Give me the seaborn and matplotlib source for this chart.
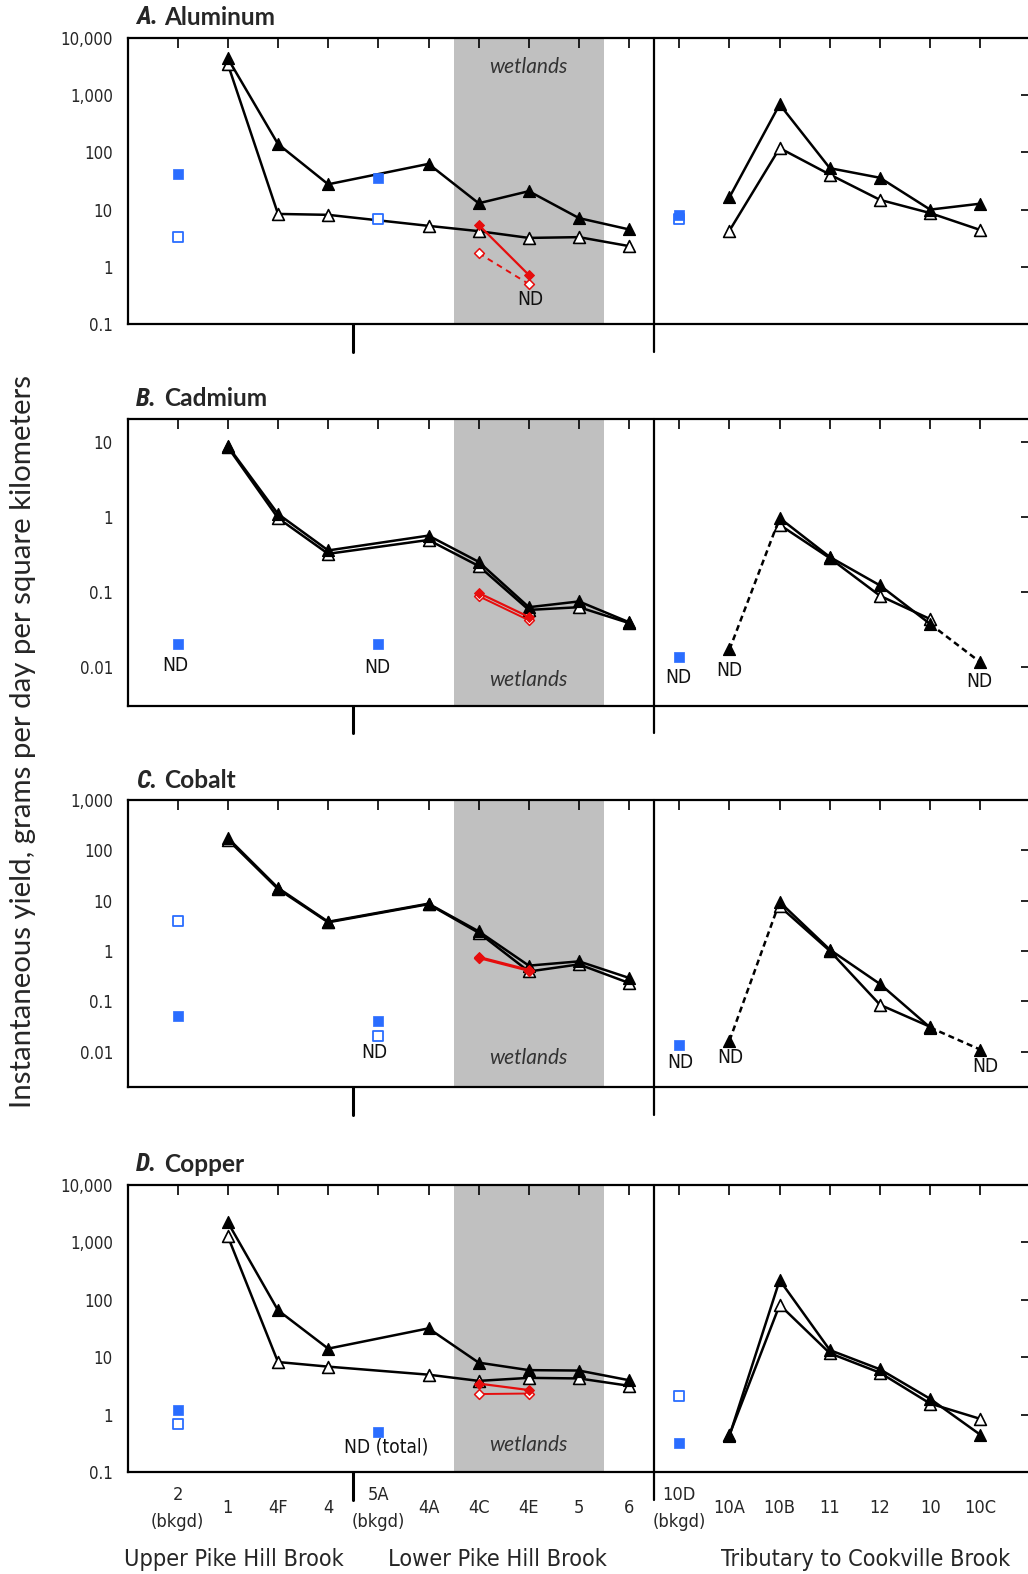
import os
import numpy as np
import matplotlib
matplotlib.use("Agg")
import matplotlib.pyplot as plt
import seaborn as sns
from matplotlib import font_manager as fm
from matplotlib.font_manager import FontProperties
from matplotlib.textpath import TextPath
from matplotlib.ticker import NullLocator

nan = np.nan

# ---------------- data ----------------
SITE_LABELS = ['2\n(bkgd)', '1', '4F', '4', '5A\n(bkgd)', '4A', '4C', '4E', '5', '6',
               '10D\n(bkgd)', '10A', '10B', '11', '12', '10', '10C']
PIKE_SITES = ['1', '4F', '4', '4A', '4C', '4E', '5', '6']
TRIB_SITES = ['10A', '10B', '11', '12', '10', '10C']
BKGD_SITES = ['2\n(bkgd)', '5A\n(bkgd)', '10D\n(bkgd)']
RED_SITES = ['4C', '4E']
GROUPS = ['Upper Pike Hill Brook', 'Lower Pike Hill Brook', 'Tributary to Cookville Brook']
PANEL_LETTERS = ['A.', 'B.', 'C.', 'D.']
PANEL_NAMES = ['Aluminum', 'Cadmium', 'Cobalt', 'Copper']
YLABEL = 'Instantaneous yield, grams per day per square kilometers'

# Aluminum
al_filled_pike = [4400, 140, 27.7, 63, 12.9, 21, 7.1, 4.5]
al_open_pike = [3500, 8.4, 8.1, 5.2, 4.2, 3.2, 3.3, 2.3]
al_filled_trib = [16.5, 690, 53, 36, 10, 12.7]
al_open_trib = [4.3, 119, 41, 14.8, 8.7, 4.4]
al_bkgd_filled = [41.5, 35, 7.9]
al_bkgd_open = [3.3, 6.8, 6.8]
al_red_filled = [5.4, 0.72]
al_red_open = [1.73, 0.5]

# Cadmium
cd_filled_pike = [8.8, 1.09, 0.355, 0.56, 0.25, 0.062, 0.074, 0.039]
cd_open_pike = [8.5, 0.96, 0.32, 0.49, 0.22, 0.057, 0.062, 0.038]
cd_filled_trib = [0.0169, 0.96, 0.29, 0.121, 0.037, 0.0114]
cd_open_trib = [nan, 0.78, 0.28, 0.088, 0.043, nan]
cd_bkgd_filled = [0.0203, 0.0203, 0.0135]
cd_bkgd_open = [nan, nan, nan]
cd_red_filled = [0.096, 0.046]
cd_red_open = [0.087, 0.0415]

# Cobalt
co_filled_pike = [176, 17.9, 3.8, 8.7, 2.45, 0.51, 0.62, 0.29]
co_open_pike = [163, 17, 3.7, 8.5, 2.3, 0.39, 0.54, 0.23]
co_filled_trib = [0.0165, 9.4, 1.06, 0.22, 0.030, 0.0109]
co_open_trib = [nan, 7.7, 1.0, 0.085, 0.031, nan]
co_bkgd_filled = [0.05, 0.040, 0.0133]
co_bkgd_open = [4.0, 0.020, nan]
co_red_filled = [0.76, 0.42]
co_red_open = [0.72, 0.40]

# Copper
cu_filled_pike = [2240, 66, 14.2, 32, 8.1, 6.0, 5.9, 4.0]
cu_open_pike = [1277, 8.3, 6.9, 5.0, 3.9, 4.4, 4.3, 3.2]
cu_filled_trib = [0.435, 221, 13.4, 6.2, 1.9, 0.45]
cu_open_trib = [0.45, 82, 11.8, 5.4, 1.57, 0.85]
cu_bkgd_filled = [1.19, 0.50, 0.33]
cu_bkgd_open = [0.70, nan, 2.17]
cu_red_filled = [3.5, 2.7]
cu_red_open = [2.3, 2.35]

YTICKS_A = [0.1, 1, 10, 100, 1000, 10000]
YTICKS_B = [0.01, 0.1, 1, 10]
YTICKS_C = [0.01, 0.1, 1, 10, 100, 1000]
YTICK_LABELS_A = ['0.1', '1', '10', '100', '1,000', '10,000']
YTICK_LABELS_B = ['0.01', '0.1', '1', '10']
YTICK_LABELS_C = ['0.01', '0.1', '1', '10', '100', '1,000']

# ---------------- fonts ----------------
sns.set_style("white")
plt.rcParams['font.family'] = ['DejaVu Sans']
plt.rcParams['axes.linewidth'] = 1.6

OK_NAMES = {'Liberation Sans Narrow', 'Liberation Sans', 'Roboto', 'Roboto Condensed',
            'Open Sans', 'Open Sans Condensed', 'Lato', 'Inter', 'Noto Sans', 'DejaVu Sans',
            'Arimo'}
NOT_REGULAR = ('bold', 'black', 'medium', 'semi', 'light', 'thin', 'extra', 'heavy',
               'ultra', 'hairline', 'demi', '[')

_cache = {}


def _measure(path, s):
    key = (path, s)
    if key not in _cache:
        _cache[key] = TextPath((0, 0), s, size=10,
                               prop=FontProperties(fname=path)).get_extents().width
    return _cache[key]


def _cap(path):
    key = (path, '#cap')
    if key not in _cache:
        _cache[key] = TextPath((0, 0), 'H', size=10,
                               prop=FontProperties(fname=path)).get_extents().height
    return _cache[key]


CANDS = []
_seen = set()
for f in fm.fontManager.ttflist:
    if f.name in OK_NAMES and f.fname not in _seen and f.fname.lower().endswith(('.ttf', '.otf')):
        _seen.add(f.fname)
        CANDS.append(f.fname)


def _kind_ok(path, bold, italic):
    b = os.path.basename(path).lower()
    is_it = ('italic' in b) or ('oblique' in b)
    if is_it != italic:
        return False
    stem = b.replace('italic', '').replace('oblique', '')
    if '[' in stem:
        return False
    if bold:
        return ('bold' in stem) and not any(x in stem for x in ('semi', 'extra', 'ultra', 'demi'))
    return not any(x in stem for x in NOT_REGULAR)


def pick_font(bold, italic, sample, ratio):
    best = None
    for path in CANDS:
        if not _kind_ok(path, bold, italic):
            continue
        try:
            r = _measure(path, sample) / _cap(path)
        except Exception:
            continue
        d = abs(np.log(r / ratio))
        if best is None or d < best[0]:
            best = (d, path)
    return best[1] if best else None


_fallback = fm.findfont(FontProperties(family='DejaVu Sans'))
F_REG = pick_font(False, False, 'Upper Pike Hill Brook', 224 / 18.3) or _fallback
F_BOLD = pick_font(True, False, 'Aluminum', 110 / 18.3) or F_REG
F_BI = pick_font(True, True, 'A.', 21 / 18.3) or F_BOLD
F_IT = pick_font(False, True, 'Upper Pike Hill Brook', 224 / 18.3) or F_REG
F_YL = pick_font(False, False, YLABEL, 727 / 21.7) or F_REG


def fp(path, text, cap_px=None, width_px=None):
    sizes = []
    if cap_px is not None:
        sizes.append(cap_px / (_cap(path) / 10))
    if width_px is not None:
        sizes.append(width_px / (_measure(path, text) / 10))
    px = min(sizes)
    return FontProperties(fname=path, size=px * 0.72)


FP_YTICK = fp(F_REG, '10,000', 14, 50)
FP_XTICK = fp(F_REG, '10A', 13.3, 30)
FP_ND = fp(F_REG, 'ND', 14, 24.5)
FP_WET = fp(F_IT, 'wetlands', None, 77)
FP_GROUP = fp(F_REG, 'Tributary to Cookville Brook', 18.3, 290)
FP_TITLE = fp(F_BOLD, 'Aluminum', 18.3, 110)
FP_LETTER = fp(F_BI, 'A.', 18.3, 21)
FP_YLABEL = fp(F_YL, YLABEL, 22, 727)

BLUE = '#2a6dff'
RED = '#e60d0d'
GREY = '#c0c0c0'

W, H = 1028, 1574
fig = plt.figure(figsize=(W / 100, H / 100), dpi=100)

pos = {lab: i for i, lab in enumerate(SITE_LABELS)}
DASH = (0, (2.4, 1.6))


def draw_series(ax, sites, vals, styles, color, lw, marker, ms, fc, ec, mew, z):
    x = np.array([pos[s] for s in sites], float)
    y = np.array(vals, float)
    if styles is not None:
        for i in range(len(x) - 1):
            if np.isnan(y[i]) or np.isnan(y[i + 1]):
                continue
            sns.lineplot(x=x[i:i + 2], y=y[i:i + 2], ax=ax, color=color, lw=lw,
                         linestyle=styles[i], estimator=None, sort=False,
                         zorder=z, legend=False)
    m = ~np.isnan(y)
    sns.scatterplot(x=x[m], y=y[m], ax=ax, marker=marker, s=ms ** 2, color=fc,
                    edgecolor=ec, linewidth=mew, zorder=z + 0.5, legend=False)


panels = [
    dict(fp=al_filled_pike, op=al_open_pike, ft=al_filled_trib, ot=al_open_trib,
         bf=al_bkgd_filled, bo=al_bkgd_open, rf=al_red_filled, ro=al_red_open,
         yl=(0.1, 10000), yt=YTICKS_A, ytl=YTICK_LABELS_A),
    dict(fp=cd_filled_pike, op=cd_open_pike, ft=cd_filled_trib, ot=cd_open_trib,
         bf=cd_bkgd_filled, bo=cd_bkgd_open, rf=cd_red_filled, ro=cd_red_open,
         yl=(0.003, 20), yt=YTICKS_B, ytl=YTICK_LABELS_B),
    dict(fp=co_filled_pike, op=co_open_pike, ft=co_filled_trib, ot=co_open_trib,
         bf=co_bkgd_filled, bo=co_bkgd_open, rf=co_red_filled, ro=co_red_open,
         yl=(0.002, 1000), yt=YTICKS_C, ytl=YTICK_LABELS_C),
    dict(fp=cu_filled_pike, op=cu_open_pike, ft=cu_filled_trib, ot=cu_open_trib,
         bf=cu_bkgd_filled, bo=cu_bkgd_open, rf=cu_red_filled, ro=cu_red_open,
         yl=(0.1, 10000), yt=YTICKS_A, ytl=YTICK_LABELS_A),
]

AX_LEFT, AX_RIGHT = 127.5, 1030.5
AX_TB = [(38, 324), (419.3, 705.7), (800, 1086.7), (1185, 1472.3)]
TITLE_Y = [17.5, 399, 781, 1164]
WET_Y = [0.90, 0.09, 0.10, 0.095]
trib_styles = [['-'] * 5, ['--', '-', '-', '-', '--'], ['--', '-', '-', '-', '--'], ['-'] * 5]
ND_NOTES = [
    [('4E', 0.5, 'ND', 1, -15)],
    [('2\n(bkgd)', 0.0203, 'ND', -2, -22), ('5A\n(bkgd)', 0.0203, 'ND', -1, -24),
     ('10D\n(bkgd)', 0.0135, 'ND', -1, -21), ('10A', 0.0169, 'ND', 0, -21),
     ('10C', 0.0114, 'ND', -1, -19)],
    [('5A\n(bkgd)', 0.020, 'ND', -4, -16), ('10D\n(bkgd)', 0.0133, 'ND', 1, -17),
     ('10A', 0.0165, 'ND', 1, -17), ('10C', 0.0109, 'ND', 5, -17)],
    [('5A\n(bkgd)', 0.50, 'ND (total)', 8, -15)],
]

for k, p in enumerate(panels):
    top, bot = AX_TB[k]
    ax = fig.add_axes([AX_LEFT / W, 1 - bot / H, (AX_RIGHT - AX_LEFT) / W, (bot - top) / H])
    ax.set_yscale('log')
    ax.set_xlim(-1, 17)
    ax.set_ylim(*p['yl'])
    ax.axvspan(5.5, 8.5, color=GREY, lw=0, zorder=0)

    lstyle = ['-'] * 7
    draw_series(ax, PIKE_SITES, p['op'], lstyle, 'black', 1.8, '^', 8.5, 'white', 'black', 1.2, 3)
    draw_series(ax, PIKE_SITES, p['fp'], lstyle, 'black', 1.8, '^', 8.5, 'black', 'black', 1.0, 4)
    ds = [DASH if s == '--' else '-' for s in trib_styles[k]]
    draw_series(ax, TRIB_SITES, p['ot'], ['-'] * 5, 'black', 1.8, '^', 8.5, 'white', 'black', 1.2, 3)
    draw_series(ax, TRIB_SITES, p['ft'], ds, 'black', 1.8, '^', 8.5, 'black', 'black', 1.0, 4)
    rs = [(0, (3, 2.5))] if k == 0 else ['-']
    draw_series(ax, RED_SITES, p['ro'], rs, RED, 1.4, 'D', 5, 'white', RED, 1.1, 5)
    draw_series(ax, RED_SITES, p['rf'], ['-'], RED, 1.6, 'D', 5, RED, RED, 0.8, 6)
    draw_series(ax, BKGD_SITES, p['bo'], None, None, None, 's', 7.7, 'white', BLUE, 1.3, 7)
    draw_series(ax, BKGD_SITES, p['bf'], None, None, None, 's', 7.7, BLUE, BLUE, 0.5, 8)

    for site, v, txt, dx, dy in ND_NOTES[k]:
        ax.annotate(txt, xy=(pos[site], v), xytext=(dx, dy), textcoords='offset pixels',
                    ha='center', va='center', fontproperties=FP_ND, color='#111111', zorder=10)

    ax.text(7, WET_Y[k], 'wetlands', transform=ax.get_xaxis_transform(), ha='center',
            va='center', fontproperties=FP_WET, color='#333333', zorder=2)

    ax.axvline(9.5, ymin=-0.097, ymax=1, color='black', lw=1.6, clip_on=False, zorder=9)
    ax.axvline(3.5, ymin=-0.097, ymax=0, color='black', lw=2.2, clip_on=False, zorder=9)

    ax.set_yticks(p['yt'], labels=p['ytl'], fontproperties=FP_YTICK)
    ax.yaxis.set_minor_locator(NullLocator())
    ax.xaxis.set_minor_locator(NullLocator())
    ax.tick_params(axis='both', which='major', direction='in', length=7, width=1.2,
                   top=True, right=True, color='black')
    ax.tick_params(axis='y', pad=10.5)
    if k == 3:
        ax.set_xticks(range(len(SITE_LABELS)), labels=SITE_LABELS,
                      fontproperties=FP_XTICK, linespacing=1.6)
        ax.tick_params(axis='x', pad=26)
        for lab in ax.get_xticklabels():
            lab.set_va('center')
    else:
        ax.set_xticks(range(len(SITE_LABELS)), labels=[''] * len(SITE_LABELS))
    ax.set_xlabel('')
    ax.set_ylabel('')
    for s in ax.spines.values():
        s.set_linewidth(1.6)
        s.set_color('black')

    fig.text(136 / W, 1 - TITLE_Y[k] / H, PANEL_LETTERS[k], fontproperties=FP_LETTER,
             va='center', ha='left')
    fig.text(164 / W, 1 - TITLE_Y[k] / H, PANEL_NAMES[k],
             fontproperties=FP_TITLE, va='center', ha='left')

fig.text(23 / W, 1 - 741 / H, YLABEL, rotation=90, ha='center', va='center',
         fontproperties=FP_YLABEL)

for txt, xc in zip(GROUPS, [234, 497, 866]):
    fig.text(xc / W, 1 - 1566 / H, txt, ha='center', va='baseline', fontproperties=FP_GROUP)

fig.savefig('out.png', dpi=100)
